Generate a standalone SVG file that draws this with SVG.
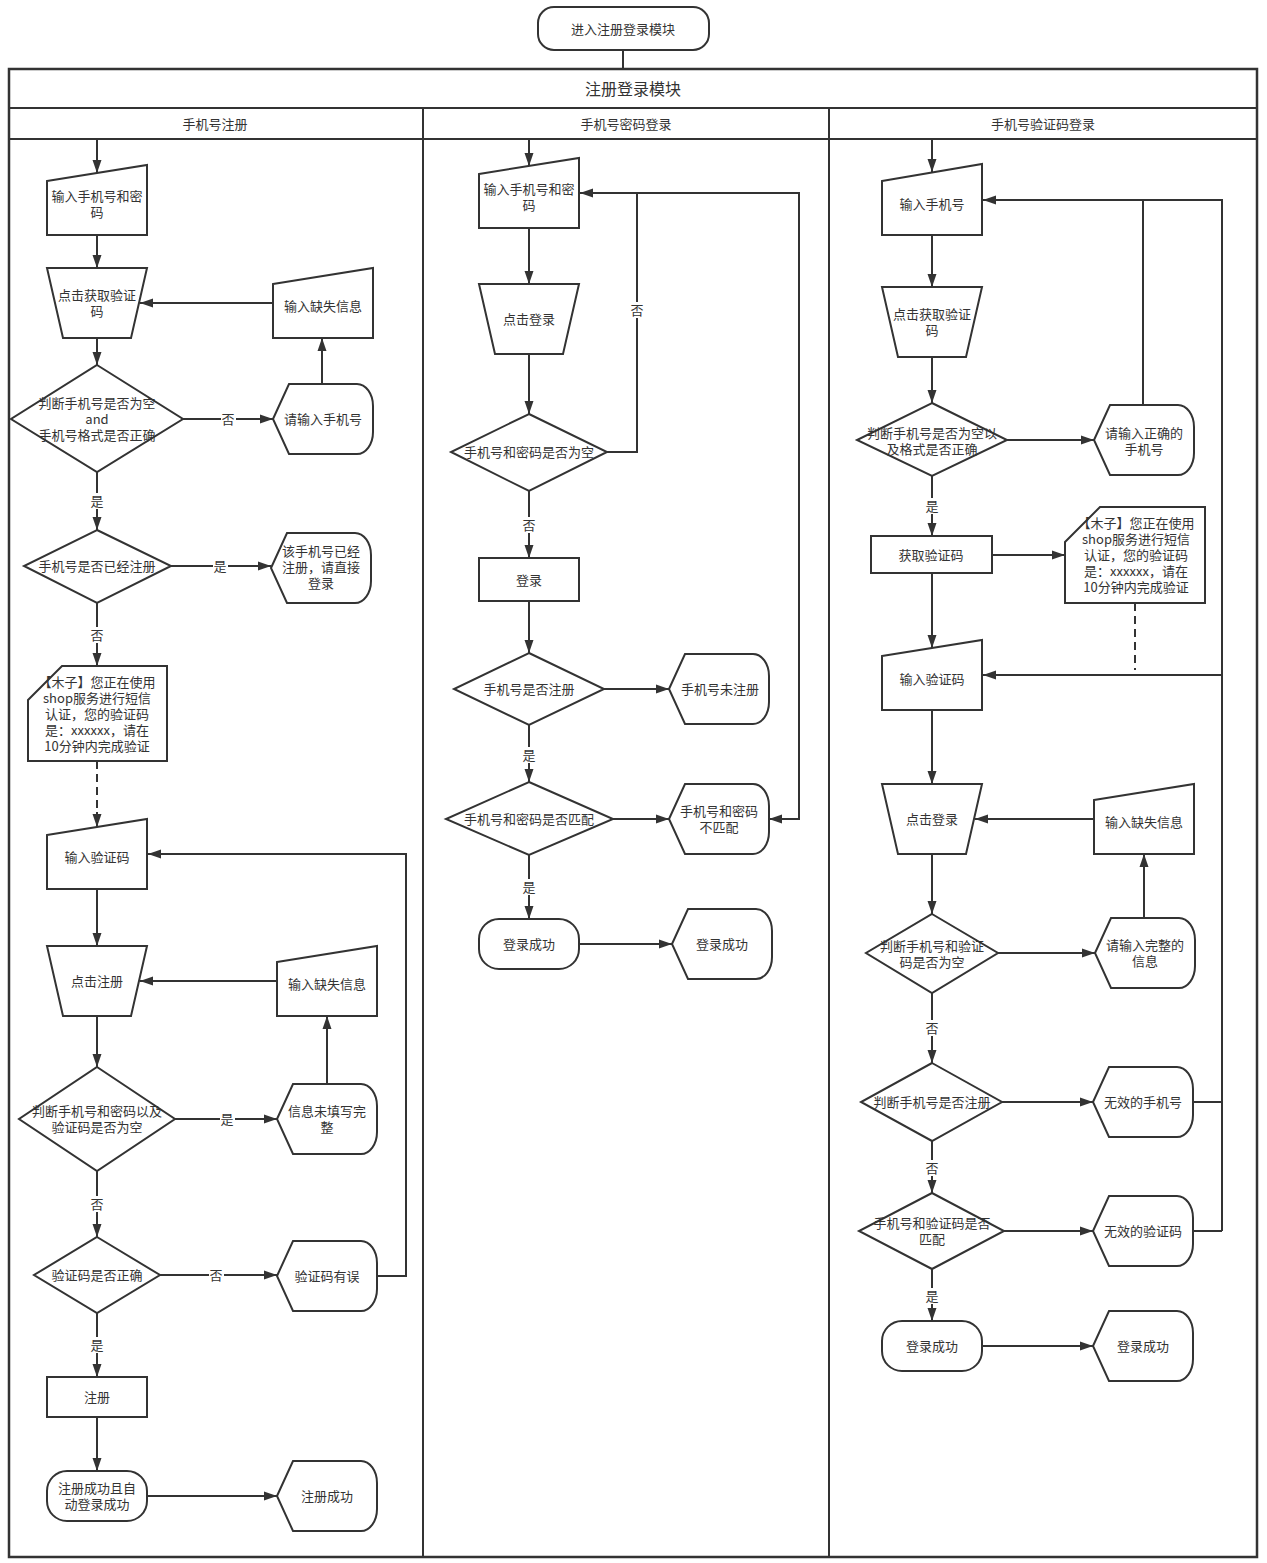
<svg xmlns="http://www.w3.org/2000/svg" width="1267" height="1563" viewBox="0 0 1267 1563">
<defs>
<marker id="ah" markerUnits="userSpaceOnUse" markerWidth="14" markerHeight="10" refX="13" refY="5" orient="auto">
<path d="M0,0.5 L13,5 L0,9.5 Z" fill="#333"/>
</marker>
<style>
.s{fill:#fff;stroke:#333;stroke-width:2}
.c{fill:none;stroke:#333;stroke-width:2;marker-end:url(#ah)}
.l{fill:none;stroke:#333;stroke-width:2}
.d{fill:none;stroke:#333;stroke-width:2;stroke-dasharray:8 5}
text{font-family:"Noto Sans CJK SC","Noto Sans",sans-serif;font-size:13px;fill:#333;text-anchor:middle;dominant-baseline:central;transform:translateY(-1px)}
.lb{fill:#fff;stroke:none}
</style>
</defs>
<rect width="1267" height="1563" fill="#fff"/>
<g id="start">
<rect class="s" x="538" y="7" width="171" height="43" rx="16"/>
<text x="623" y="29">进入注册登录模块</text>
</g>
<g id="frame">
<line class="l" x1="623" y1="50" x2="623" y2="69"/>
<rect x="9" y="69" width="1248" height="1488" fill="none" stroke="#333" stroke-width="2.5"/>
<line class="l" x1="9" y1="108" x2="1257" y2="108"/>
<line class="l" x1="9" y1="139" x2="1257" y2="139"/>
<line class="l" x1="423" y1="108" x2="423" y2="1557"/>
<line class="l" x1="829" y1="108" x2="829" y2="1557"/>
<text x="633" y="89" style="font-size:16px">注册登录模块</text>
<text x="215" y="124">手机号注册</text>
<text x="626" y="124">手机号密码登录</text>
<text x="1043" y="124">手机号验证码登录</text>
</g>
<g id="connectors">
<path class="c" d="M97,139 V173"/>
<path class="c" d="M97,235 V268"/>
<path class="c" d="M97,338 V365"/>
<path class="c" d="M183,419 H273"/>
<path class="c" d="M322,384 V338"/>
<path class="c" d="M273,303 H140"/>
<path class="c" d="M97,472 V530"/>
<path class="c" d="M171,566 H271"/>
<path class="c" d="M97,603 V666"/>
<path class="d" d="M97,761 V815"/>
<path class="c" d="M97,812 V827"/>
<path class="c" d="M97,889 V946"/>
<path class="c" d="M277,981 H140"/>
<path class="c" d="M97,1016 V1067"/>
<path class="c" d="M175,1119 H277"/>
<path class="c" d="M327,1084 V1016"/>
<path class="c" d="M97,1171 V1237"/>
<path class="c" d="M160,1275 H277"/>
<path class="c" d="M377,1276 H406 V854 H148"/>
<path class="c" d="M97,1313 V1377"/>
<path class="c" d="M97,1417 V1471"/>
<path class="c" d="M147,1496 H277"/>

<path class="c" d="M529,139 V166"/>
<path class="c" d="M529,228 V284"/>
<path class="c" d="M529,354 V414"/>
<path class="c" d="M607,452 H637 V193 H580"/>
<path class="c" d="M637,193 H799 V819 H769"/>
<path class="c" d="M529,491 V558"/>
<path class="c" d="M529,601 V653"/>
<path class="c" d="M604,689 H669"/>
<path class="c" d="M529,725 V782"/>
<path class="c" d="M613,819 H669"/>
<path class="c" d="M529,855 V919"/>
<path class="c" d="M579,944 H672"/>

<path class="c" d="M932,139 V172"/>
<path class="c" d="M932,235 V287"/>
<path class="c" d="M932,357 V403"/>
<path class="c" d="M1007,440 H1094"/>
<path class="c" d="M1143,405 V200 H983"/>
<path class="l" d="M1143,200 H1222 V1231"/>
<path class="l" d="M1193,1102 H1222"/>
<path class="l" d="M1193,1231 H1222"/>
<path class="c" d="M1222,675 H983"/>
<path class="c" d="M932,476 V536"/>
<path class="c" d="M992,555 H1065"/>
<path class="d" d="M1135,603 V670"/>
<path class="c" d="M932,573 V648"/>
<path class="c" d="M932,710 V784"/>
<path class="c" d="M1094,819 H975"/>
<path class="c" d="M932,854 V914"/>
<path class="c" d="M998,953 H1095"/>
<path class="c" d="M1144,918 V854"/>
<path class="c" d="M932,993 V1063"/>
<path class="c" d="M1002,1102 H1093"/>
<path class="c" d="M932,1141 V1193"/>
<path class="c" d="M1004,1231 H1093"/>
<path class="c" d="M932,1269 V1321"/>
<path class="c" d="M982,1346 H1093"/>

<rect class="lb" x="221" y="411" width="15" height="16"/><text x="228" y="419">否</text>
<rect class="lb" x="90" y="493" width="15" height="16"/><text x="97" y="501">是</text>
<rect class="lb" x="213" y="558" width="15" height="16"/><text x="220" y="566">是</text>
<rect class="lb" x="90" y="627" width="15" height="16"/><text x="97" y="635">否</text>
<rect class="lb" x="220" y="1111" width="15" height="16"/><text x="227" y="1119">是</text>
<rect class="lb" x="90" y="1196" width="15" height="16"/><text x="97" y="1204">否</text>
<rect class="lb" x="209" y="1267" width="15" height="16"/><text x="216" y="1275">否</text>
<rect class="lb" x="90" y="1337" width="15" height="16"/><text x="97" y="1345">是</text>
<rect class="lb" x="630" y="302" width="15" height="16"/><text x="637" y="310">否</text>
<rect class="lb" x="522" y="517" width="15" height="16"/><text x="529" y="525">否</text>
<rect class="lb" x="522" y="747" width="15" height="16"/><text x="529" y="755">是</text>
<rect class="lb" x="522" y="879" width="15" height="16"/><text x="529" y="887">是</text>
<rect class="lb" x="925" y="498" width="15" height="16"/><text x="932" y="506">是</text>
<rect class="lb" x="925" y="1020" width="15" height="16"/><text x="932" y="1028">否</text>
<rect class="lb" x="925" y="1160" width="15" height="16"/><text x="932" y="1168">否</text>
<rect class="lb" x="925" y="1288" width="15" height="16"/><text x="932" y="1296">是</text>
</g>

<g id="n1"><path class="s" d="M47,181 L147,165 V235 H47 Z"/><text x="97" y="196">输入手机号和密</text><text x="97" y="212">码</text></g>
<g id="n2"><path class="s" d="M47,268 H147 L131,338 H63 Z"/><text x="97" y="295">点击获取验证</text><text x="97" y="311">码</text></g>
<g id="n3"><path class="s" d="M97,365 L183,419 L97,472 L11,419 Z"/><text x="97" y="403">判断手机号是否为空</text><text x="97" y="419">and</text><text x="97" y="435">手机号格式是否正确</text></g>
<g id="n4"><path class="s" d="M273,419 L289,384 H357 A16,22 0 0 1 373,406 V432 A16,22 0 0 1 357,454 H289 Z"/><text x="323" y="419">请输入手机号</text></g>
<g id="n5"><path class="s" d="M273,284 L373,268 V338 H273 Z"/><text x="323" y="306">输入缺失信息</text></g>
<g id="n6"><path class="s" d="M97,530 L171,566 L97,603 L24,566 Z"/><text x="97" y="566">手机号是否已经注册</text></g>
<g id="n7"><path class="s" d="M271,568 L287,533 H355 A16,22 0 0 1 371,555 V581 A16,22 0 0 1 355,603 H287 Z"/><text x="321" y="551">该手机号已经</text><text x="321" y="567">注册，请直接</text><text x="321" y="583">登录</text></g>
<g id="n8"><path class="s" d="M28,700 L62,666 H167 V761 H28 Z"/><text x="97" y="682">【木子】您正在使用</text><text x="97" y="698">shop服务进行短信</text><text x="97" y="714">认证，您的验证码</text><text x="97" y="730">是：xxxxxx，请在</text><text x="97" y="746">10分钟内完成验证</text></g>
<g id="n9"><path class="s" d="M47,835 L147,819 V889 H47 Z"/><text x="97" y="857">输入验证码</text></g>
<g id="n10"><path class="s" d="M47,946 H147 L131,1016 H63 Z"/><text x="97" y="981">点击注册</text></g>
<g id="n11"><path class="s" d="M277,962 L377,946 V1016 H277 Z"/><text x="327" y="984">输入缺失信息</text></g>
<g id="n12"><path class="s" d="M97,1067 L175,1119 L97,1171 L19,1119 Z"/><text x="97" y="1111">判断手机号和密码以及</text><text x="97" y="1127">验证码是否为空</text></g>
<g id="n13"><path class="s" d="M277,1119 L293,1084 H361 A16,22 0 0 1 377,1106 V1132 A16,22 0 0 1 361,1154 H293 Z"/><text x="327" y="1111">信息未填写完</text><text x="327" y="1127">整</text></g>
<g id="n14"><path class="s" d="M97,1237 L160,1275 L97,1313 L34,1275 Z"/><text x="97" y="1275">验证码是否正确</text></g>
<g id="n15"><path class="s" d="M277,1276 L293,1241 H361 A16,22 0 0 1 377,1263 V1289 A16,22 0 0 1 361,1311 H293 Z"/><text x="327" y="1276">验证码有误</text></g>
<g id="n16"><rect class="s" x="47" y="1377" width="100" height="40"/><text x="97" y="1397">注册</text></g>
<g id="n17"><rect class="s" x="47" y="1471" width="100" height="50" rx="20"/><text x="97" y="1488">注册成功且自</text><text x="97" y="1504">动登录成功</text></g>
<g id="n18"><path class="s" d="M277,1496 L293,1461 H361 A16,22 0 0 1 377,1483 V1509 A16,22 0 0 1 361,1531 H293 Z"/><text x="327" y="1496">注册成功</text></g>

<g id="m1"><path class="s" d="M479,174 L579,158 V228 H479 Z"/><text x="529" y="189">输入手机号和密</text><text x="529" y="205">码</text></g>
<g id="m2"><path class="s" d="M479,284 H579 L563,354 H495 Z"/><text x="529" y="319">点击登录</text></g>
<g id="m3"><path class="s" d="M529,414 L607,452 L529,491 L451,452 Z"/><text x="529" y="452">手机号和密码是否为空</text></g>
<g id="m4"><rect class="s" x="479" y="558" width="100" height="43"/><text x="529" y="580">登录</text></g>
<g id="m5"><path class="s" d="M529,653 L604,689 L529,725 L454,689 Z"/><text x="529" y="689">手机号是否注册</text></g>
<g id="m6"><path class="s" d="M669,689 L685,654 H753 A16,22 0 0 1 769,676 V702 A16,22 0 0 1 753,724 H685 Z"/><text x="720" y="689">手机号未注册</text></g>
<g id="m7"><path class="s" d="M529,782 L613,819 L529,855 L446,819 Z"/><text x="529" y="819">手机号和密码是否匹配</text></g>
<g id="m8"><path class="s" d="M669,819 L685,784 H753 A16,22 0 0 1 769,806 V832 A16,22 0 0 1 753,854 H685 Z"/><text x="719" y="811">手机号和密码</text><text x="719" y="827">不匹配</text></g>
<g id="m9"><rect class="s" x="479" y="919" width="100" height="50" rx="20"/><text x="529" y="944">登录成功</text></g>
<g id="m10"><path class="s" d="M672,944 L688,909 H756 A16,22 0 0 1 772,931 V957 A16,22 0 0 1 756,979 H688 Z"/><text x="722" y="944">登录成功</text></g>

<g id="k1"><path class="s" d="M882,181 L982,164 V235 H882 Z"/><text x="932" y="204">输入手机号</text></g>
<g id="k2"><path class="s" d="M882,287 H982 L966,357 H898 Z"/><text x="932" y="314">点击获取验证</text><text x="932" y="330">码</text></g>
<g id="k3"><path class="s" d="M932,403 L1007,440 L932,476 L857,440 Z"/><text x="932" y="433">判断手机号是否为空以</text><text x="932" y="449">及格式是否正确</text></g>
<g id="k4"><path class="s" d="M1094,440 L1110,405 H1178 A16,22 0 0 1 1194,427 V453 A16,22 0 0 1 1178,475 H1110 Z"/><text x="1144" y="433">请输入正确的</text><text x="1144" y="449">手机号</text></g>
<g id="k5"><rect class="s" x="871" y="536" width="121" height="37"/><text x="931" y="555">获取验证码</text></g>
<g id="k6"><path class="s" d="M1065,542 L1100,507 H1205 V603 H1065 Z"/><text x="1136" y="523">【木子】您正在使用</text><text x="1136" y="539">shop服务进行短信</text><text x="1136" y="555">认证，您的验证码</text><text x="1136" y="571">是：xxxxxx，请在</text><text x="1136" y="587">10分钟内完成验证</text></g>
<g id="k7"><path class="s" d="M882,656 L982,640 V710 H882 Z"/><text x="932" y="679">输入验证码</text></g>
<g id="k8"><path class="s" d="M882,784 H982 L966,854 H898 Z"/><text x="932" y="819">点击登录</text></g>
<g id="k9"><path class="s" d="M1094,800 L1194,784 V854 H1094 Z"/><text x="1144" y="822">输入缺失信息</text></g>
<g id="k10"><path class="s" d="M932,914 L998,953 L932,993 L866,953 Z"/><text x="932" y="946">判断手机号和验证</text><text x="932" y="962">码是否为空</text></g>
<g id="k11"><path class="s" d="M1095,953 L1111,918 H1179 A16,22 0 0 1 1195,940 V966 A16,22 0 0 1 1179,988 H1111 Z"/><text x="1145" y="945">请输入完整的</text><text x="1145" y="961">信息</text></g>
<g id="k12"><path class="s" d="M932,1063 L1002,1102 L932,1141 L861,1102 Z"/><text x="932" y="1102">判断手机号是否注册</text></g>
<g id="k13"><path class="s" d="M1093,1102 L1109,1067 H1177 A16,22 0 0 1 1193,1089 V1115 A16,22 0 0 1 1177,1137 H1109 Z"/><text x="1143" y="1102">无效的手机号</text></g>
<g id="k14"><path class="s" d="M932,1193 L1004,1231 L932,1269 L859,1231 Z"/><text x="932" y="1223">手机号和验证码是否</text><text x="932" y="1239">匹配</text></g>
<g id="k15"><path class="s" d="M1093,1231 L1109,1196 H1177 A16,22 0 0 1 1193,1218 V1244 A16,22 0 0 1 1177,1266 H1109 Z"/><text x="1143" y="1231">无效的验证码</text></g>
<g id="k16"><rect class="s" x="882" y="1321" width="100" height="50" rx="20"/><text x="932" y="1346">登录成功</text></g>
<g id="k17"><path class="s" d="M1093,1346 L1109,1311 H1177 A16,22 0 0 1 1193,1333 V1359 A16,22 0 0 1 1177,1381 H1109 Z"/><text x="1143" y="1346">登录成功</text></g>
</svg>
